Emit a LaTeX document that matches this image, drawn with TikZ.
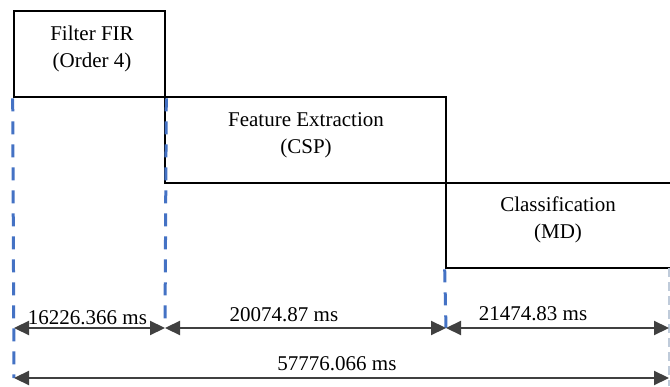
\documentclass[tikz,border=0pt]{standalone}
\usepackage{fontspec}
\setmainfont{Liberation Serif}
\usetikzlibrary{arrows.meta,positioning,calc}

\definecolor{dimgray}{HTML}{404040}
\definecolor{guideblue}{HTML}{4472C4}
\definecolor{guidegray}{HTML}{BFCBDA}

\begin{document}
\begin{tikzpicture}[
    x=1pt, y=1pt,
    stagebox/.style={rectangle, draw=black, line width=2.6pt, inner sep=0pt},
    stagetext/.style={anchor=north, align=center, inner sep=0pt,
                      font=\fontsize{21}{27}\selectfont},
    guide/.style={draw=guideblue, line width=3pt, dash pattern=on 13pt off 10pt},
    lightguide/.style={draw=guidegray, line width=1.2pt, dash pattern=on 9pt off 5pt},
    dim/.style={<->, >={Triangle[length=15pt, width=14pt]},
                draw=dimgray, line width=2.2pt},
    dimlabel/.style={anchor=base, inner sep=0pt, font=\fontsize{21}{26}\selectfont}
]
\useasboundingbox (0,0) rectangle (670,386);
\clip (0,0) rectangle (670,386);

% Stages
\node[stagebox, minimum width=151pt, minimum height=86pt] (fir) at (89.5, 332) {};
\node[stagebox, minimum width=281pt, minimum height=86pt] (csp) at (305.5, 246) {};
\node[stagebox, minimum width=228pt, minimum height=85pt] (md) at (560, 160.5) {};

\node[stagetext] (firtext) at (92, 360) {Filter FIR\\(Order 4)};
\node[stagetext] (csptext) at (306, 274) {Feature Extraction\\(CSP)};
\node[stagetext] (mdtext) at (558, 189) {Classification\\(MD)};

% Dimension ends
\coordinate (d0) at (14, 58);
\coordinate (d1) at (165, 58);
\coordinate (d2) at (446, 58);
\coordinate (d3) at (669, 58);
\coordinate (t0) at (14, 8);
\coordinate (t1) at (669, 8);
\coordinate (g1) at (669, 118);
\coordinate (g0) at (669, 0);

% Guide lines
\draw[guide] (fir.south west) -- (t0);
\draw[guide] (fir.south east) -- (d1);
\draw[guide] (md.south west) -- (d2);
\draw[lightguide] (g1) -- (g0);

% Durations
\draw[dim] (d0) -- (d1)
    node[dimlabel, midway, xshift=-2pt, yshift=3pt] {16226.366 ms};
\draw[dim] (d1) -- (d2)
    node[dimlabel, midway, xshift=-21.5pt, yshift=6pt] {20074.87 ms};
\draw[dim] (d2) -- (d3)
    node[dimlabel, midway, xshift=-24.5pt, yshift=7pt] {21474.83 ms};
\draw[dim] (t0) -- (t1)
    node[dimlabel, midway, xshift=-4.5pt, yshift=8pt] {57776.066 ms};

\end{tikzpicture}
\end{document}
